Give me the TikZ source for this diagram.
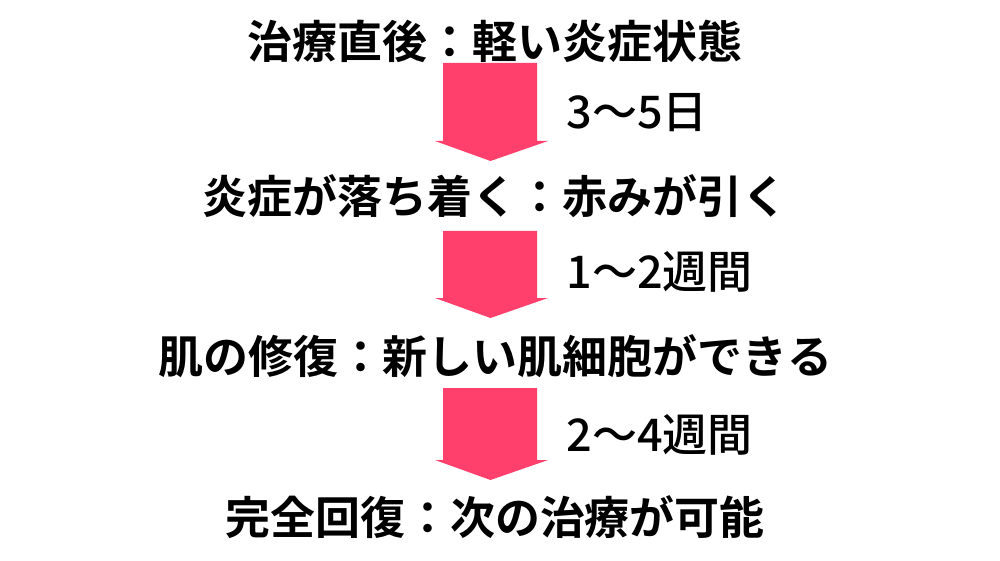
\documentclass[tikz,border=0pt]{standalone}
\usepackage{fontspec}
\setmainfont{Noto Sans CJK JP}[BoldFont={Noto Sans CJK JP Bold}]
\newfontfamily\spanfont{Noto Sans CJK JP Medium}
\definecolor{arrowpink}{HTML}{FF3F6C}
\tikzset{
  stage/.style={font=\fontsize{12.8pt}{14pt}\selectfont\bfseries, inner sep=0pt},
  span/.style={font=\fontsize{12.8pt}{14pt}\selectfont\spanfont, inner sep=0pt, anchor=west},
}
% #1 top of the shaft, #2 length of the shaft
\newcommand{\downarrowblock}[2]{%
  \fill[arrowpink] (#1) ++(-.48,0) -- ++(0,-#2) -- ++(-.08,0) -- ++(.555,-.2)
    -- ++(.575,.2) -- ++(-.11,0) -- ++(0,#2) -- cycle;}

\begin{document}
\begin{tikzpicture}
      \useasboundingbox (0,0) rectangle (10,5.6);
      \node[stage] (s1) at (4.95,5.19) {治療直後：軽い炎症状態};
      \node[stage] (s2) at (4.95,3.64) {炎症が落ち着く：赤みが引く};
      \node[stage] (s3) at (4.95,2.04) {肌の修復：新しい肌細胞ができる};
      \node[stage] (s4) at (4.95,.43) {完全回復：次の治療が可能};
      \coordinate (a1) at (4.91,4.97);
      \coordinate (a2) at (4.91,3.29);
      \coordinate (a3) at (4.91,1.72);
      \downarrowblock{a1}{.78}
      \downarrowblock{a2}{.67}
      \downarrowblock{a3}{.72}
      \node[span] (d1) at (5.66,4.47) {3～5日};
      \node[span] (d2) at (5.66,2.88) {1～2週間};
      \node[span] (d3) at (5.66,1.25) {2～4週間};
    \end{tikzpicture}
\end{document}
